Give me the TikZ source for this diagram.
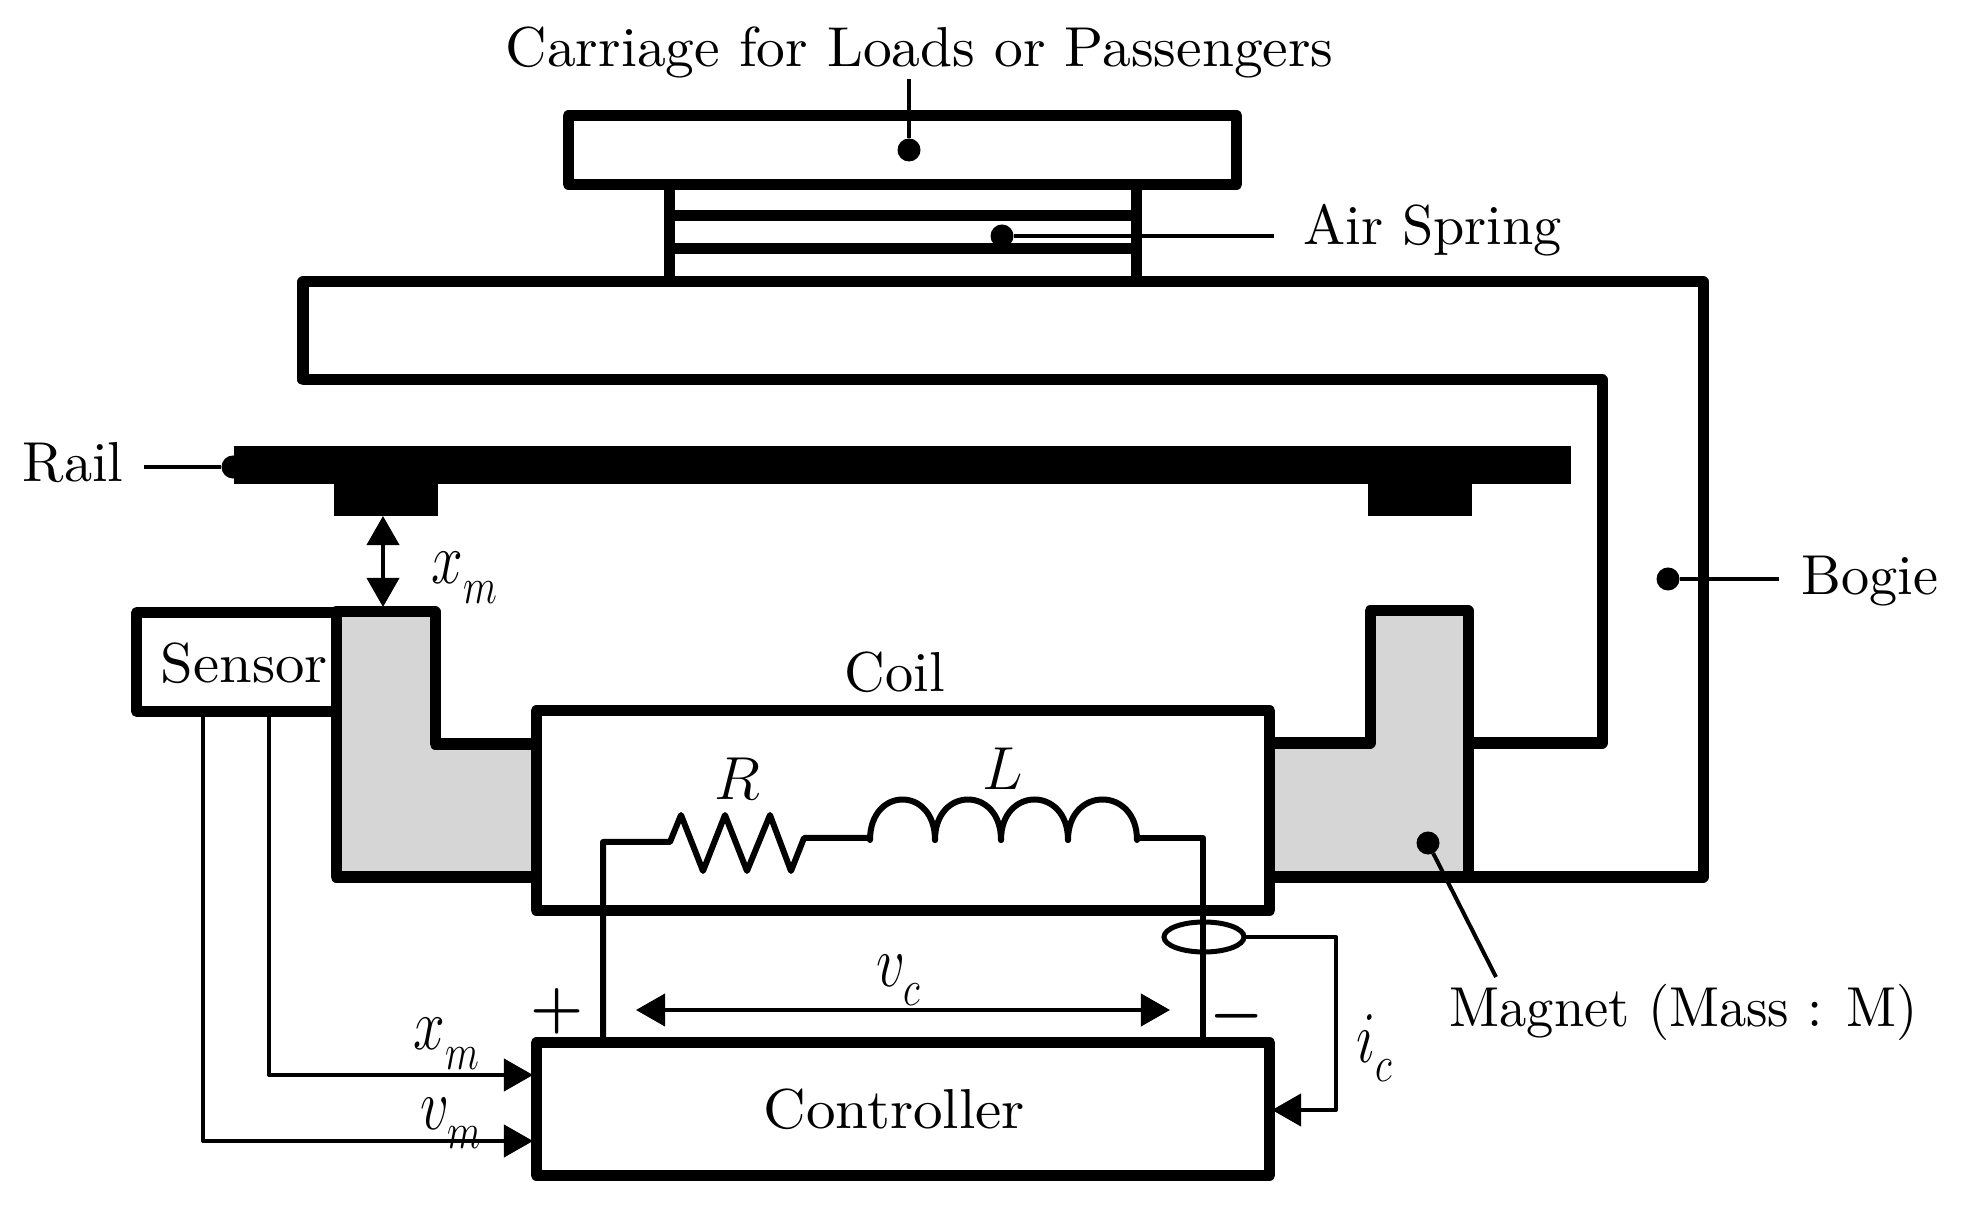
\documentclass[tikz,border=0pt]{standalone}
\usepackage{amsmath,amssymb}
\usepackage{tikz}
\usetikzlibrary{arrows.meta,shapes.geometric}
\definecolor{magnetgray}{gray}{0.84}
\newcommand{\wordtxt}[2][1.6]{\scalebox{#1}[1.6]{#2}}
\newcommand{\varsym}[2]{\scalebox{0.78}[1]{$#1_{\lower 2.5pt\hbox{$\scriptstyle #2$}}$}}
\tikzset{
    heavy/.style={line width=0.11cm,line join=round},
    wire/.style={line width=0.06cm,line join=round},
    lead/.style={line width=0.04cm,line join=round},
    sig/.style={line width=0.04cm,line join=round,-{Triangle[length=0.29cm,width=0.32cm]}},
    gap/.style={line width=0.04cm,{Triangle[length=0.29cm,width=0.32cm]}-{Triangle[length=0.29cm,width=0.32cm]}},
    box/.style={draw,heavy,fill=white,inner sep=0pt,outer sep=0pt},
    dotmark/.style={circle,fill=black,inner sep=0pt,outer sep=0pt,minimum size=0.23cm},
    lbl/.style={inner sep=0pt,anchor=base west},
    sym/.style={inner sep=0pt,anchor=base west,font=\fontsize{22}{26}\selectfont},
    elem/.style={inner sep=0pt,anchor=base,font=\fontsize{19}{23}\selectfont},
    sgn/.style={inner sep=0pt,font=\fontsize{16}{19}\selectfont}
}
\begin{document}
\begin{tikzpicture}[x=0.01cm,y=-0.01cm]
    \useasboundingbox (0,0) rectangle (1966,1216);

    % carriage and air spring
    \draw[heavy] (669,184) -- (669,282);
    \draw[heavy] (1136,184) -- (1136,282);
    \draw[heavy] (669,216) -- (1136,216);
    \draw[heavy] (669,249) -- (1136,249);
    \node[box,minimum width=6.68cm,minimum height=0.68cm] (carriage) at (902.5,150) {};

    % bogie
    \draw[heavy] (1468,743) -- (1602,743) -- (1602,380) -- (303,380) -- (303,282) -- (1703,282) -- (1703,877) -- (1468,877);

    % rail
    \fill[black] (234,446) rectangle (1571,484);
    \node[fill=black,inner sep=0pt,minimum width=1.03cm,minimum height=0.34cm] (footl) at (386,499) {};
    \node[fill=black,inner sep=0pt,minimum width=1.04cm,minimum height=0.34cm] (footr) at (1420,499) {};

    % magnet
    \draw[heavy,fill=magnetgray] (336,612) -- (435,612) -- (435,744) -- (537,744) -- (537,877) -- (336,877) -- cycle;
    \draw[heavy,fill=magnetgray] (1269,743) -- (1370,743) -- (1370,611) -- (1468,611) -- (1468,877) -- (1269,877) -- cycle;

    % blocks
    \node[box,minimum width=1.99cm,minimum height=0.99cm] (sensor) at (236.5,662) {};
    \node[box,minimum width=7.33cm,minimum height=1.99cm] (coil) at (903,810.5) {};
    \node[box,minimum width=7.33cm,minimum height=1.32cm] (controller) at (903,1109) {};

    % coil circuit
    \draw[wire] (603,1043) -- (603,842) -- (670,842) -- (681,815) -- (703,871) -- (725,815) -- (747,871) -- (770,815) -- (791,871) -- (804,838) -- (870,838);
    \foreach \a/\b in {870/935,935/1001,1001/1068,1068/1137}
        \draw[wire,line cap=round] (\a,840) .. controls (\a,786) and (\b,786) .. (\b,840);
    \draw[wire] (1137,838) -- (1203,838) -- (1203,1043);
    \node[draw,ellipse,line width=0.05cm,inner sep=0pt,outer sep=0pt,minimum width=0.8cm,minimum height=0.3cm] (ring) at (1204,937) {};

    % signals
    \coordinate (gaptop) at (383,516);
    \coordinate (gapbot) at (383,607);
    \draw[gap] (gaptop) -- (gapbot);
    \coordinate (xmout) at (269,711);
    \coordinate (xmin) at (533,1075);
    \draw[sig] (xmout) |- (xmin);
    \coordinate (vmout) at (203,711);
    \coordinate (vmin) at (533,1141);
    \draw[sig] (vmout) |- (vmin);
    \coordinate (icturn) at (1336,1110);
    \coordinate (icin) at (1272,1110);
    \draw[sig] (ring.east) -| (icturn) -- (icin);
    \coordinate (vcleft) at (636,1010);
    \coordinate (vcright) at (1170,1010);
    \draw[gap] (vcleft) -- (vcright);

    % leaders
    \node[dotmark] (carriagedot) at (909,150) {};
    \coordinate (carriagetip) at (909,79);
    \draw[lead] (carriagetip) -- (carriagedot);
    \node[dotmark] (springdot) at (1002,236) {};
    \coordinate (springtip) at (1274,236);
    \draw[lead] (springdot) -- (springtip);
    \node[dotmark] (bogiedot) at (1668,579) {};
    \coordinate (bogietip) at (1779,579);
    \draw[lead] (bogiedot) -- (bogietip);
    \node[dotmark] (raildot) at (233,467) {};
    \coordinate (railtip) at (144,467);
    \draw[lead] (railtip) -- (raildot);
    \node[dotmark] (magnetdot) at (1428,843) {};
    \coordinate (magnettip) at (1496,977);
    \draw[lead] (magnetdot) -- (magnettip);

    % labels
    \node[lbl] at (505,67) (carriagetxt) {\wordtxt[1.635]{Carriage for Loads or Passengers}};
    \node[lbl] at (1303,245) (springtxt) {\wordtxt{Air Spring}};
    \node[lbl] at (1801,595) (bogietxt) {\wordtxt{Bogie}};
    \node[lbl] at (22,482) (railtxt) {\wordtxt{Rail}};
    \node[lbl] at (160,683) (sensortxt) {\wordtxt[1.67]{Sensor}};
    \node[lbl] at (844,692) (coiltxt) {\wordtxt{Coil}};
    \node[lbl] at (763,1128) (controllertxt) {\wordtxt[1.68]{Controller}};
    \node[lbl] at (1449,1027) (magnettxt) {\wordtxt[1.55]{Magnet (Mass : M)}};
    \node[sym] at (431,584) (xmgap) {\varsym{x}{m}};
    \node[sym] at (413,1050) (xmsig) {\varsym{x}{m}};
    \node[sym] at (420,1129) (vmsig) {\varsym{v}{m}};
    \node[sym] at (876,986) (vcsig) {\varsym{v}{c}};
    \node[sym] at (1356,1062) (icsig) {\varsym{i}{c}};
    \node[elem] at (737,800) (rtxt) {$R$};
    \node[elem] at (1003,790) (ltxt) {$L$};
    \node[sgn] at (557,1011) (plus) {$\boldsymbol{+}$};
    \node[sgn] at (1237,1016) (minus) {$\boldsymbol{-}$};
\end{tikzpicture}
\end{document}
